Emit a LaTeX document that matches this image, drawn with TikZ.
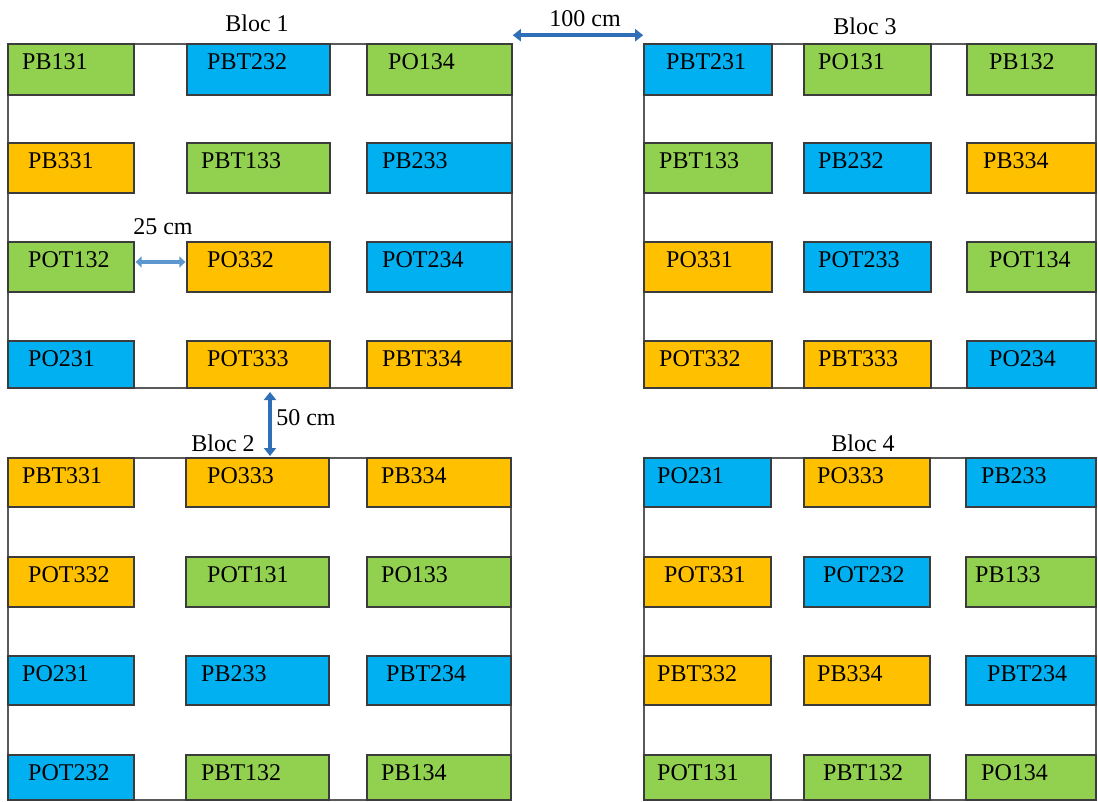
\documentclass[tikz,border=0pt]{standalone}
\usepackage{fontspec}
\setmainfont{Liberation Serif}
\usetikzlibrary{arrows.meta}
\definecolor{cgreen}{HTML}{92D050}
\definecolor{cblue}{HTML}{00B0F0}
\definecolor{corange}{HTML}{FFC000}
\definecolor{arrdark}{HTML}{2E6FB7}
\definecolor{arrlight}{HTML}{5E97D0}
\definecolor{framegray}{HTML}{5A5A5A}
\definecolor{cellborder}{HTML}{3C3C3C}
\tikzset{
  framebox/.style={draw=framegray, line width=1.6pt, fill=none, inner sep=0pt, rectangle},
  cellbox/.style={draw=cellborder, line width=1.3pt, inner sep=0pt, rectangle},
  txt/.style={inner sep=0pt, font=\fontsize{24}{28}\selectfont, text=black},
  dimarrow/.style={draw=arrdark, line width=3.8pt, {Triangle[length=8pt,width=12pt]}-{Triangle[length=8pt,width=12pt]}},
  dimarrowlight/.style={draw=arrlight, line width=4pt, {Triangle[length=6pt,width=11pt]}-{Triangle[length=6pt,width=11pt]}}
}
% \cellx{name}{x1}{x2}{y1}{y2}{color}{text x}{text}
\newcommand{\cellx}[8]{%
  \node[cellbox, fill=#6, minimum width={(#3-#2)*1pt}, minimum height={(#5-#4)*1pt}] (#1) at ({(#2+#3)/2},{(#4+#5)/2}) {};
  \node[txt, anchor=west] (#1t) at (#7,{#4+18}) {#8};
}
\begin{document}
\begin{tikzpicture}[x=1pt,y=-1pt]
\useasboundingbox (0,0) rectangle (1098,802);
% frames
\node[framebox, minimum width=504pt, minimum height=344pt] (f1) at (260,216) {};
\node[framebox, minimum width=452pt, minimum height=344pt] (f3) at (870,216) {};
\node[framebox, minimum width=503pt, minimum height=342pt] (f2) at (259.5,629) {};
\node[framebox, minimum width=452pt, minimum height=342pt] (f4) at (870,629) {};
% Bloc 1
\cellx{a11}{8}{134}{44}{95}{cgreen}{22}{PB131}
\cellx{a12}{187}{330}{44}{95}{cblue}{207}{PBT232}
\cellx{a13}{367}{512}{44}{95}{cgreen}{388}{PO134}
\cellx{a21}{8}{134}{143}{193}{corange}{28}{PB331}
\cellx{a22}{187}{330}{143}{193}{cgreen}{201}{PBT133}
\cellx{a23}{367}{512}{143}{193}{cblue}{382}{PB233}
\cellx{a31}{8}{134}{242}{292}{cgreen}{28}{POT132}
\cellx{a32}{187}{330}{242}{292}{corange}{207}{PO332}
\cellx{a33}{367}{512}{242}{292}{cblue}{382}{POT234}
\cellx{a41}{8}{134}{341}{388}{cblue}{28}{PO231}
\cellx{a42}{187}{330}{341}{388}{corange}{207}{POT333}
\cellx{a43}{367}{512}{341}{388}{corange}{382}{PBT334}
% Bloc 3
\cellx{c11}{644}{772}{44}{95}{cblue}{666}{PBT231}
\cellx{c12}{804}{931}{44}{95}{cgreen}{818}{PO131}
\cellx{c13}{967}{1096}{44}{95}{cgreen}{989}{PB132}
\cellx{c21}{644}{772}{143}{193}{cgreen}{659}{PBT133}
\cellx{c22}{804}{931}{143}{193}{cblue}{818}{PB232}
\cellx{c23}{967}{1096}{143}{193}{corange}{983}{PB334}
\cellx{c31}{644}{772}{242}{292}{corange}{666}{PO331}
\cellx{c32}{804}{931}{242}{292}{cblue}{818}{POT233}
\cellx{c33}{967}{1096}{242}{292}{cgreen}{989}{POT134}
\cellx{c41}{644}{772}{341}{388}{corange}{659}{POT332}
\cellx{c42}{804}{931}{341}{388}{corange}{818}{PBT333}
\cellx{c43}{967}{1096}{341}{388}{cblue}{989}{PO234}
% Bloc 2
\cellx{b11}{8}{134}{458}{507}{corange}{22}{PBT331}
\cellx{b12}{186}{329}{458}{507}{corange}{207}{PO333}
\cellx{b13}{367}{511}{458}{507}{corange}{381}{PB334}
\cellx{b21}{8}{134}{557}{607}{corange}{28}{POT332}
\cellx{b22}{186}{329}{557}{607}{cgreen}{207}{POT131}
\cellx{b23}{367}{511}{557}{607}{cgreen}{381}{PO133}
\cellx{b31}{8}{134}{656}{705}{cblue}{22}{PO231}
\cellx{b32}{186}{329}{656}{705}{cblue}{201}{PB233}
\cellx{b33}{367}{511}{656}{705}{cblue}{386}{PBT234}
\cellx{b41}{8}{134}{755}{800}{cblue}{28}{POT232}
\cellx{b42}{186}{329}{755}{800}{cgreen}{201}{PBT132}
\cellx{b43}{367}{511}{755}{800}{cgreen}{381}{PB134}
% Bloc 4
\cellx{d11}{644}{771}{458}{507}{cblue}{657}{PO231}
\cellx{d12}{804}{930}{458}{507}{corange}{817}{PO333}
\cellx{d13}{966}{1096}{458}{507}{cblue}{981}{PB233}
\cellx{d21}{644}{771}{557}{607}{corange}{664}{POT331}
\cellx{d22}{804}{930}{557}{607}{cblue}{823}{POT232}
\cellx{d23}{966}{1096}{557}{607}{cgreen}{975}{PB133}
\cellx{d31}{644}{771}{656}{705}{corange}{657}{PBT332}
\cellx{d32}{804}{930}{656}{705}{corange}{817}{PB334}
\cellx{d33}{966}{1096}{656}{705}{cblue}{987}{PBT234}
\cellx{d41}{644}{771}{755}{800}{cgreen}{657}{POT131}
\cellx{d42}{804}{930}{755}{800}{cgreen}{823}{PBT132}
\cellx{d43}{966}{1096}{755}{800}{cgreen}{981}{PO134}
% titles
\node[txt] (t1) at (257,23) {Bloc 1};
\node[txt] (t3) at (865,26) {Bloc 3};
\node[txt] (t2) at (223,443) {Bloc 2};
\node[txt] (t4) at (863,443) {Bloc 4};
% dimension arrows
\draw[dimarrow] ([yshift=8pt]f1.north east) -- ([yshift=8pt]f3.north west);
\node[txt] (l100) at (585,19) {100 cm};
\draw[dimarrowlight] ([yshift=5pt,xshift=1pt]a31.east) -- ([yshift=5pt,xshift=-1pt]a32.west);
\node[txt] (l25) at (163,227) {25 cm};
\coordinate (v1) at (270,392);
\coordinate (v2) at (270,456);
\draw[dimarrow] (v1) -- (v2);
\node[txt] (l50) at (306,418) {50 cm};
\end{tikzpicture}
\end{document}
